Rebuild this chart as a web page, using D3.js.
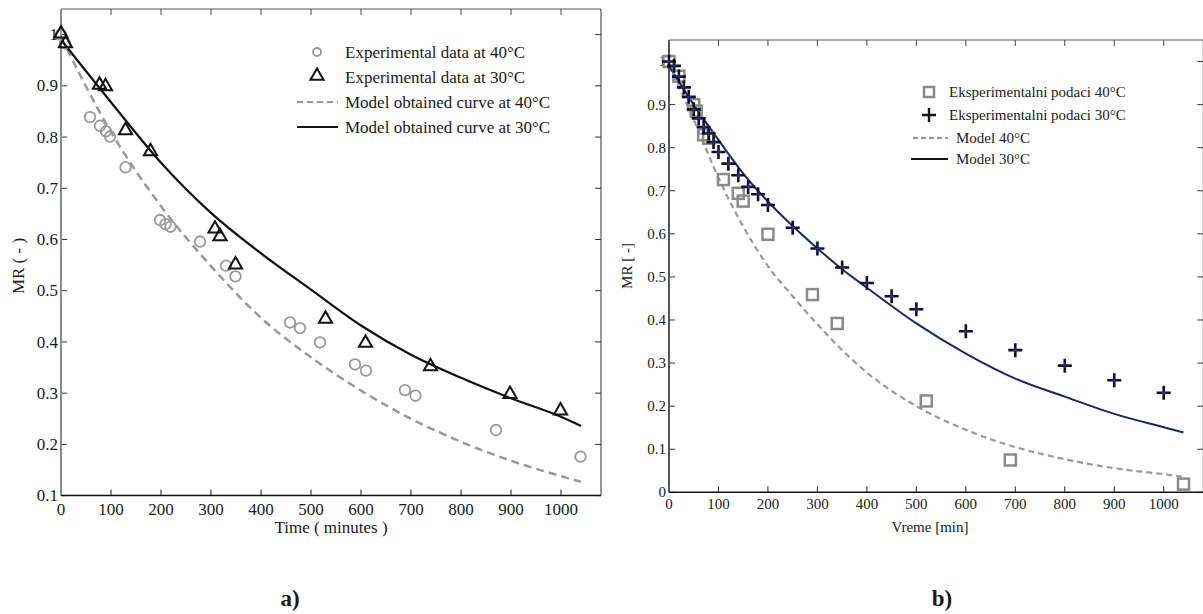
<!DOCTYPE html>
<html>
<head>
<meta charset="utf-8">
<script src="https://cdn.jsdelivr.net/npm/d3@7"></script>
<style>
  body { margin: 0; background: #fff; }
  svg { display: block; }
  text { font-family: "Liberation Serif", "Times New Roman", serif; fill: #1a1a1a; }
</style>
</head>
<body>
<div id="mainDiv"></div>
<script>
// ---- panel a) data ----
const timeA40 = [0, 8, 58, 78, 90, 98, 129, 198, 209, 219, 278, 330, 349, 458, 478, 518, 588, 610, 688, 709, 870, 1039];
const mrA40   = [1.0, 0.983, 0.839, 0.822, 0.811, 0.801, 0.741, 0.638, 0.630, 0.625, 0.596, 0.549, 0.528, 0.438, 0.427, 0.399, 0.356, 0.344, 0.306, 0.295, 0.228, 0.176];
const timeA30 = [0, 9, 77, 89, 129, 179, 308, 318, 349, 529, 609, 739, 898, 999];
const mrA30   = [1.0, 0.981, 0.900, 0.897, 0.811, 0.770, 0.619, 0.604, 0.549, 0.443, 0.396, 0.350, 0.296, 0.264];
const modelTimeA = [0, 100, 200, 300, 400, 500, 600, 700, 800, 900, 1000, 1040];
const modelA40   = [0.995, 0.81, 0.665, 0.548, 0.447, 0.37, 0.305, 0.25, 0.205, 0.168, 0.138, 0.127];
const modelA30   = [0.99, 0.868, 0.75, 0.652, 0.573, 0.502, 0.432, 0.375, 0.33, 0.29, 0.254, 0.236];
const xTicksA = [0, 100, 200, 300, 400, 500, 600, 700, 800, 900, 1000];
const yTicksA = [0.1, 0.2, 0.3, 0.4, 0.5, 0.6, 0.7, 0.8, 0.9, 1];

// ---- panel b) data ----
const timeB40 = [0, 20, 50, 55, 70, 80, 110, 140, 150, 200, 290, 340, 520, 690, 1040];
const mrB40   = [1.0, 0.966, 0.9, 0.885, 0.83, 0.822, 0.726, 0.694, 0.676, 0.599, 0.459, 0.392, 0.212, 0.075, 0.019];
const timeB30 = [0, 10, 20, 30, 40, 50, 60, 70, 80, 90, 100, 120, 140, 160, 180, 200, 250, 300, 350, 400, 450, 500, 600, 700, 800, 900, 1000];
const mrB30   = [1.0, 0.99, 0.965, 0.94, 0.918, 0.889, 0.868, 0.848, 0.833, 0.813, 0.79, 0.763, 0.736, 0.709, 0.692, 0.667, 0.614, 0.566, 0.522, 0.486, 0.455, 0.425, 0.374, 0.33, 0.294, 0.26, 0.231];
const modelTimeB = [0, 50, 100, 150, 200, 250, 300, 350, 400, 500, 600, 700, 800, 900, 1000, 1040];
const modelB40   = [0.99, 0.865, 0.73, 0.617, 0.525, 0.455, 0.39, 0.33, 0.278, 0.2, 0.145, 0.105, 0.077, 0.056, 0.042, 0.036];
const modelB30   = [0.99, 0.9, 0.818, 0.74, 0.675, 0.618, 0.566, 0.518, 0.475, 0.392, 0.322, 0.264, 0.222, 0.182, 0.151, 0.139];
const xTicksB = [0, 100, 200, 300, 400, 500, 600, 700, 800, 900, 1000];
const yTicksB = [0, 0.1, 0.2, 0.3, 0.4, 0.5, 0.6, 0.7, 0.8, 0.9, 1];

const width = 1203, height = 614;
const fmtY = d => (d === 0 || d === 1) ? String(d) : d.toFixed(1);

let svg = d3.select("#mainDiv").append("svg")
  .attr("width", width)
  .attr("height", height);

// draws a MATLAB-like box with inward ticks on all four sides
function drawFrame(x, y, xTicks, yTicks, fontSize, leftColor) {
  let [x0, x1] = x.range(), [y0, y1] = y.range(); // y0 bottom, y1 top
  let g = svg.append("g");
  let tl = 6;

  g.append("line").attr("x1", x0).attr("x2", x1).attr("y1", y1).attr("y2", y1)
    .attr("stroke", "#555").attr("stroke-width", 1);
  g.append("line").attr("x1", x1).attr("x2", x1).attr("y1", y0).attr("y2", y1)
    .attr("stroke", "#333").attr("stroke-width", 1);

  xTicks.forEach(t => {
    g.append("line").attr("x1", x(t)).attr("x2", x(t)).attr("y1", y0).attr("y2", y0 - tl)
      .attr("stroke", "#222");
    g.append("line").attr("x1", x(t)).attr("x2", x(t)).attr("y1", y1).attr("y2", y1 + tl)
      .attr("stroke", "#444");
    g.append("text").attr("x", x(t)).attr("y", y0 + fontSize + 2)
      .attr("text-anchor", "middle").style("font-size", fontSize + "px").text(t);
  });
  yTicks.forEach(t => {
    g.append("line").attr("x1", x0).attr("x2", x0 + tl).attr("y1", y(t)).attr("y2", y(t))
      .attr("stroke", "#333");
    g.append("line").attr("x1", x1).attr("x2", x1 - tl).attr("y1", y(t)).attr("y2", y(t))
      .attr("stroke", "#333");
    g.append("text").attr("x", x0 - 3).attr("y", y(t) + fontSize * 0.33)
      .attr("text-anchor", "end").style("font-size", fontSize + "px").text(fmtY(t));
  });

  g.append("line").attr("x1", x0).attr("x2", x0).attr("y1", y0).attr("y2", y1)
    .attr("stroke", leftColor).attr("stroke-width", 2);
  g.append("line").attr("x1", x0).attr("x2", x1).attr("y1", y0).attr("y2", y0)
    .attr("stroke", "#111").attr("stroke-width", 1.5);
}

function makeLine(x, y) {
  return d3.line().x(d => x(d[0])).y(d => y(d[1])).curve(d3.curveMonotoneX);
}

// ================= panel a) =================
let xA = d3.scaleLinear().domain([0, 1080]).range([61, 601]);
let yA = d3.scaleLinear().domain([0.1, 1.05]).range([495.6, 9]);
drawFrame(xA, yA, xTicksA, yTicksA, 17, "#8c8c8c");

svg.append("path")
  .attr("d", makeLine(xA, yA)(d3.zip(modelTimeA, modelA40)))
  .attr("fill", "none").attr("stroke", "#999").attr("stroke-width", 2.5)
  .attr("stroke-dasharray", "8,5");
svg.append("path")
  .attr("d", makeLine(xA, yA)(d3.zip(modelTimeA, modelA30)))
  .attr("fill", "none").attr("stroke", "#111").attr("stroke-width", 2.2);

svg.append("g").selectAll("circle")
  .data(d3.zip(timeA40, mrA40))
  .enter().append("circle")
    .attr("cx", d => xA(d[0])).attr("cy", d => yA(d[1])).attr("r", 5.3)
    .attr("fill", "none").attr("stroke", "#999").attr("stroke-width", 1.8);

let tri = d3.symbol().type(d3.symbolTriangle).size(75);
svg.append("g").selectAll("path")
  .data(d3.zip(timeA30, mrA30))
  .enter().append("path")
    .attr("d", tri)
    .attr("transform", d => "translate(" + xA(d[0]) + "," + (yA(d[1]) - 1) + ")")
    .attr("fill", "none").attr("stroke", "#111").attr("stroke-width", 2);

svg.append("text")
  .attr("transform", "translate(24,266) rotate(-90)")
  .attr("text-anchor", "middle").style("font-size", "17px").text("MR ( - )");
svg.append("text")
  .attr("x", 331).attr("y", 533)
  .attr("text-anchor", "middle").style("font-size", "17px").text("Time ( minutes )");

// legend a)
let legA = svg.append("g").style("font-size", "17px");
legA.append("circle").attr("cx", 317).attr("cy", 52).attr("r", 4)
  .attr("fill", "none").attr("stroke", "#999").attr("stroke-width", 1.8);
legA.append("path").attr("d", tri).attr("transform", "translate(317,76)")
  .attr("fill", "none").attr("stroke", "#111").attr("stroke-width", 2);
legA.append("line").attr("x1", 297).attr("x2", 338).attr("y1", 102).attr("y2", 102)
  .attr("stroke", "#999").attr("stroke-width", 2).attr("stroke-dasharray", "6,4");
legA.append("line").attr("x1", 297).attr("x2", 338).attr("y1", 127).attr("y2", 127)
  .attr("stroke", "#111").attr("stroke-width", 2.2);
["Experimental data at 40°C", "Experimental data at 30°C",
 "Model obtained curve at 40°C", "Model obtained curve at 30°C"].forEach((t, i) => {
  legA.append("text").attr("x", 345).attr("y", 58 + i * 25).text(t);
});

// ================= panel b) =================
let xB = d3.scaleLinear().domain([0, 1080]).range([669, 1203.3]);
let yB = d3.scaleLinear().domain([0, 1.05]).range([492.3, 40]);
drawFrame(xB, yB, xTicksB, yTicksB, 15, "#555");

svg.append("path")
  .attr("d", makeLine(xB, yB)(d3.zip(modelTimeB, modelB40)))
  .attr("fill", "none").attr("stroke", "#999").attr("stroke-width", 2.2)
  .attr("stroke-dasharray", "6,4");
svg.append("path")
  .attr("d", makeLine(xB, yB)(d3.zip(modelTimeB, modelB30)))
  .attr("fill", "none").attr("stroke", "#14286e").attr("stroke-width", 2);

svg.append("g").selectAll("rect")
  .data(d3.zip(timeB40, mrB40))
  .enter().append("rect")
    .attr("x", d => xB(d[0]) - 5.5).attr("y", d => yB(d[1]) - 5.5)
    .attr("width", 11).attr("height", 11)
    .attr("fill", "none").attr("stroke", "#8a8a8a").attr("stroke-width", 2.5);

let plus = svg.append("g").selectAll("g")
  .data(d3.zip(timeB30, mrB30))
  .enter().append("g")
    .attr("transform", d => "translate(" + xB(d[0]) + "," + yB(d[1]) + ")");
plus.append("path").attr("d", "M-7,0H7M0,-7V7")
  .attr("stroke", "#111").attr("stroke-width", 2.6);
plus.append("path").attr("d", "M-2.5,0H2.5M0,-2.5V2.5")
  .attr("stroke", "#2a2ae0").attr("stroke-width", 1);

svg.append("text")
  .attr("transform", "translate(632,266) rotate(-90)")
  .attr("text-anchor", "middle").style("font-size", "15px").text("MR [ -]");
svg.append("text")
  .attr("x", 930).attr("y", 532)
  .attr("text-anchor", "middle").style("font-size", "15px").text("Vreme [min]");

// legend b)
let legB = svg.append("g").style("font-size", "15px");
legB.append("rect").attr("x", 924).attr("y", 87).attr("width", 10).attr("height", 10)
  .attr("fill", "none").attr("stroke", "#8a8a8a").attr("stroke-width", 2.5);
legB.append("path").attr("d", "M922,115H936M929,108V122")
  .attr("stroke", "#111").attr("stroke-width", 2.4);
legB.append("line").attr("x1", 913).attr("x2", 948).attr("y1", 138).attr("y2", 138)
  .attr("stroke", "#999").attr("stroke-width", 2).attr("stroke-dasharray", "5,3");
legB.append("line").attr("x1", 911).attr("x2", 948).attr("y1", 159).attr("y2", 159)
  .attr("stroke", "#111").attr("stroke-width", 2);
legB.append("text").attr("x", 949).attr("y", 97).text("Eksperimentalni podaci 40°C");
legB.append("text").attr("x", 949).attr("y", 120).text("Eksperimentalni podaci 30°C");
legB.append("text").attr("x", 956).attr("y", 143).text("Model 40°C");
legB.append("text").attr("x", 956).attr("y", 164).text("Model 30°C");

// panel captions
svg.append("text").attr("x", 290).attr("y", 606).attr("text-anchor", "middle")
  .style("font-size", "23px").style("font-weight", "bold").text("a)");
svg.append("text").attr("x", 942).attr("y", 606).attr("text-anchor", "middle")
  .style("font-size", "23px").style("font-weight", "bold").text("b)");
</script>
</body>
</html>
